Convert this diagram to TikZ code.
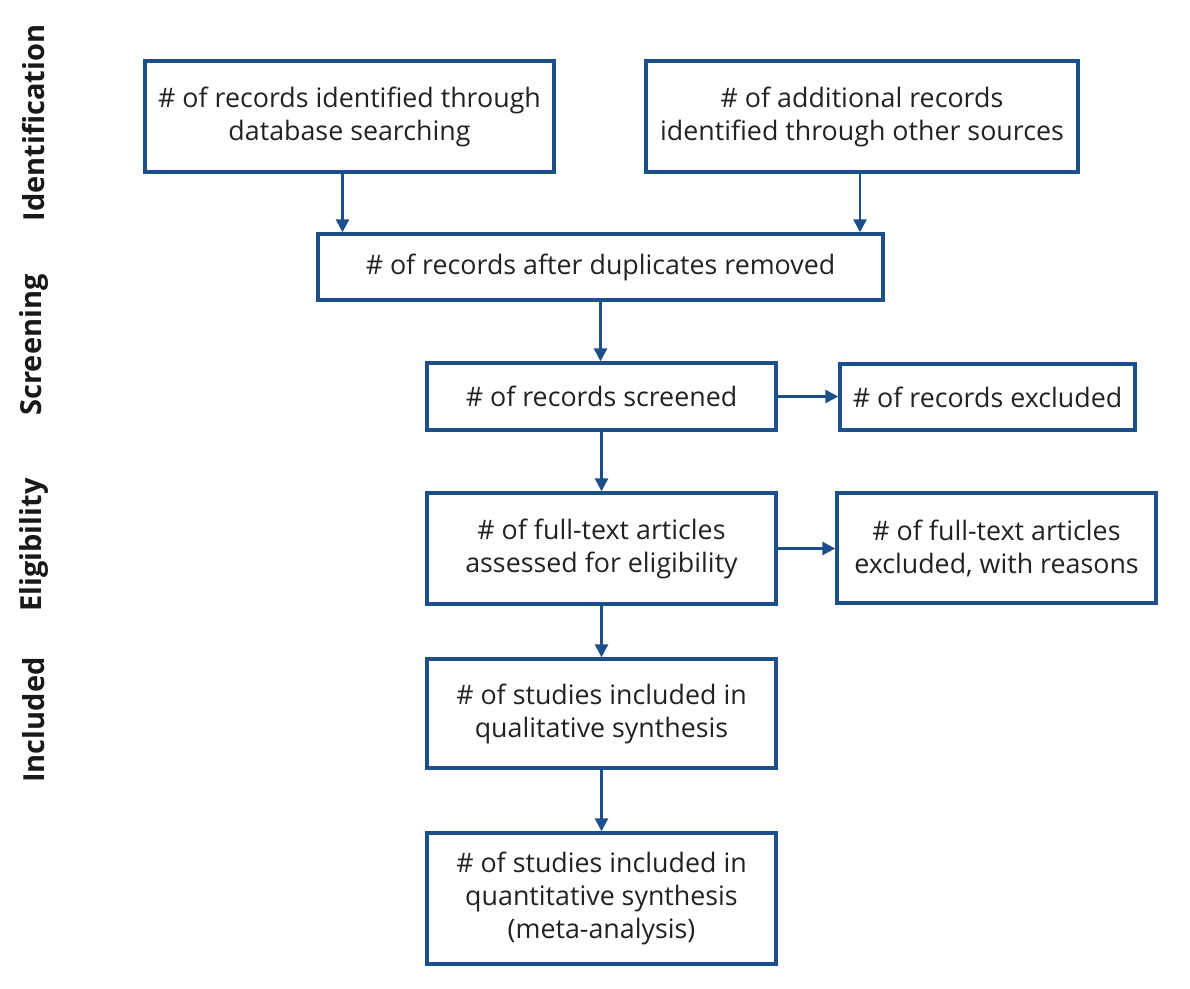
\documentclass[tikz,border=0pt]{standalone}
\usepackage{fontspec}
\setmainfont{Open Sans}
\usetikzlibrary{arrows.meta}
\definecolor{flowblue}{HTML}{1D4F8A}
\definecolor{inkgrey}{HTML}{222222}
\begin{document}
\begin{tikzpicture}[x=1pt,y=-1pt,
  box/.style={draw=flowblue, line width=3.4pt, rectangle, align=center,
    text=inkgrey, inner sep=0pt,
    font=\fontsize{26.8}{33}\selectfont},
  phase/.style={rotate=90, text=black!90, inner sep=0pt,
    font=\fontsize{29}{33}\selectfont\bfseries},
  arr/.style={draw=flowblue, line width=2.8pt,
    -{Triangle[length=13pt,width=13pt]}}]
\useasboundingbox (0,0) rectangle (1190,988);

% phase labels
\node[phase] (pid) at (34,123) {Identification};
\node[phase] (pscr) at (34,345) {Screening};
\node[phase] (pel) at (34,545) {Eligibility};
\node[phase] (pinc) at (34,720) {Included};

% boxes
\node[box, minimum width=409pt, minimum height=111pt] (db) at (349.5,116.5)
  {\# of records identified through\\database searching};
\node[box, minimum width=432pt, minimum height=111pt] (other) at (862,116.5)
  {\# of additional records\\identified through other sources};
\node[box, minimum width=565pt, minimum height=66pt] (dup) at (600.5,267)
  {\# of records after duplicates removed};
\node[box, minimum width=349pt, minimum height=67pt] (scr) at (601.5,396.5)
  {\# of records screened};
\node[box, minimum width=295pt, minimum height=66pt] (exc) at (987.5,397)
  {\# of records excluded};
\node[box, minimum width=349pt, minimum height=111pt] (full) at (601.5,548.5)
  {\# of full-text articles\\assessed for eligibility};
\node[box, minimum width=319pt, minimum height=110pt] (fexc) at (996.5,548)
  {\# of full-text articles\\excluded, with reasons};
\node[box, minimum width=349pt, minimum height=109pt] (qual) at (601.5,713.5)
  {\# of studies included in\\qualitative synthesis};
\node[box, minimum width=349pt, minimum height=131pt] (quant) at (601.5,898.5)
  {\# of studies included in\\quantitative synthesis\\(meta-analysis)};

% connectors
\draw[arr] ([xshift=-7pt]db.south) -- ([xshift=-7pt]db.south |- dup.north);
\draw[arr] ([xshift=-2pt]other.south) -- ([xshift=-2pt]other.south |- dup.north);
\draw[arr] (dup.south) -- (dup.south |- scr.north);
\draw[arr] (scr.east) -- (scr.east -| exc.west);
\draw[arr] (scr.south) -- (full.north);
\draw[arr] (full.east) -- (full.east -| fexc.west);
\draw[arr] (full.south) -- (qual.north);
\draw[arr] (qual.south) -- (quant.north);
\end{tikzpicture}
\end{document}
